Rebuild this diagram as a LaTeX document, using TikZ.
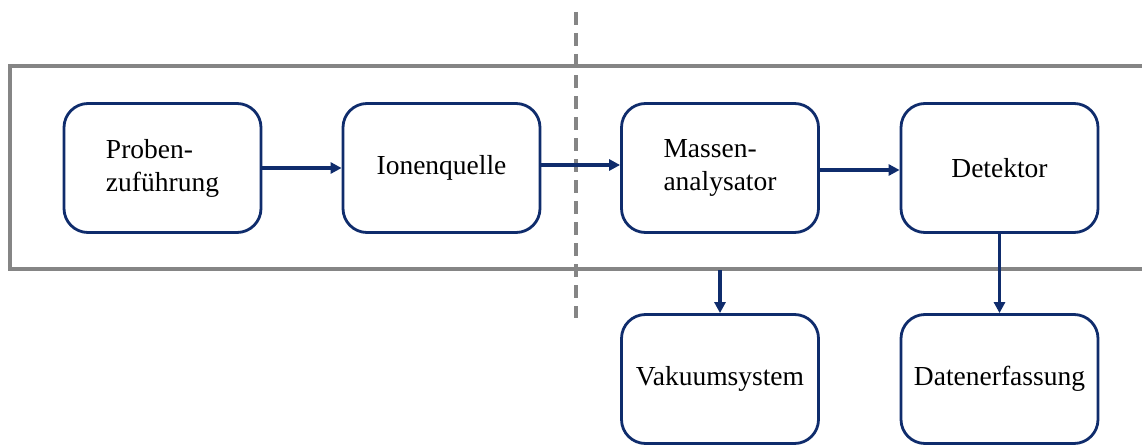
\documentclass[tikz,border=0pt]{standalone}
\usepackage{fontspec}
\setmainfont{Liberation Serif}
\usetikzlibrary{arrows.meta}
\definecolor{navy}{HTML}{0F2C6C}
\definecolor{frame}{HTML}{858585}
\begin{document}
\begin{tikzpicture}[x=1pt,y=-1pt,
  blockbox/.style={draw=navy,line width=2.8pt,rounded corners=24pt,minimum width=197pt,minimum height=129pt,inner sep=0pt,font=\fontsize{27.5}{33}\selectfont,align=left},
  flow/.style={draw=navy,line width=3.5pt,-{Triangle[length=11pt,width=11pt]}},
  framebox/.style={draw=frame,line width=3.2pt},
  divider/.style={draw=frame,line width=3.2pt,dash pattern=on 13pt off 8pt}]
\useasboundingbox (0,0) rectangle (1142,444);
\clip (0,0) rectangle (1142,444);
\fill[white] (0,0) rectangle (1142,444);
\draw[framebox] (10,66) rectangle (1170,269);
\draw[divider] (576,12) -- (576,318);
\node[blockbox] (p) at (162.5,168) {Proben-\\zuführung};
\node[blockbox] (i) at (441.5,168) {Ionenquelle};
\node[blockbox] (m) at (720,168) {Massen-\\analysator};
\node[blockbox] (d) at (999.5,168) {Detektor};
\node[blockbox] (v) at (720,379) {Vakuumsystem};
\node[blockbox] (e) at (999.5,379) {Datenerfassung};
\coordinate (mv) at (720,270);
\draw[flow] (p.east) -- (i.west);
\draw[flow] ([yshift=3pt]i.east) -- ([yshift=3pt]m.west);
\draw[flow] ([yshift=-2pt]m.east) -- ([yshift=-2pt]d.west);
\draw[flow] (mv) -- (v.north);
\draw[flow] (d.south) -- (e.north);
\end{tikzpicture}
\end{document}
